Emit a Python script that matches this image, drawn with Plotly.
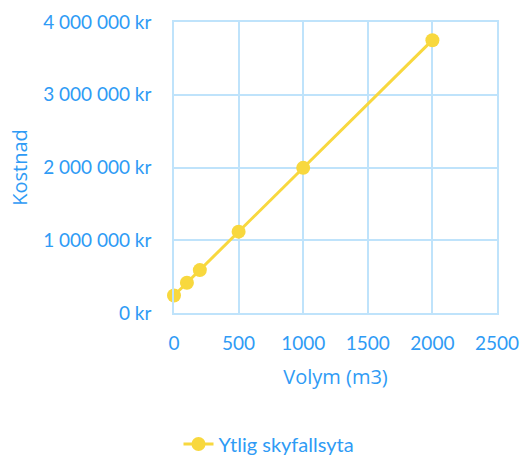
import plotly.graph_objects as go

volym = [0, 100, 200, 500, 1000, 2000]
kostnad = [240000, 415000, 590000, 1118000, 1995000, 3750000]
series_name = "Ytlig skyfallsyta"
x_ticks = [0, 500, 1000, 1500, 2000, 2500]
y_ticks = [0, 1000000, 2000000, 3000000, 4000000]
y_ticktext = [f"{v:,}".replace(",", " ") + " kr" for v in y_ticks]

blue = "#2F9BF5"
grid = "#BFE3FB"
yellow = "#F8D83E"
font = "Lato, Open Sans, sans-serif"
title_font = "Open Sans, Lato, sans-serif"

W, H = 523, 459

fig = go.Figure()
fig.add_trace(go.Scatter(
    x=volym, y=kostnad, mode="lines+markers", name=series_name,
    line=dict(color=yellow, width=3),
    marker=dict(color=yellow, size=14),
    cliponaxis=False,
))
fig.update_layout(
    width=W, height=H,
    margin=dict(l=174, r=26, t=22, b=146, autoexpand=False),
    paper_bgcolor="white", plot_bgcolor="white",
    font=dict(family=font, color=blue, size=19),
    showlegend=True,
    legend=dict(orientation="h", x=269 / W, xanchor="center", xref="container",
                y=(H - 444) / H, yanchor="middle", yref="container",
                font=dict(size=20, color=blue)),
    xaxis=dict(range=[0, 2500], tickvals=x_ticks, tickformat="d", automargin=False,
               showgrid=True, gridcolor=grid, gridwidth=1.5,
               showline=True, linecolor=grid, linewidth=1.5, mirror=True,
               zeroline=False, ticks="", ticklabelstandoff=12,
               title=dict(text="Volym (m3)", font=dict(size=20, color=blue, family=title_font), standoff=17)),
    yaxis=dict(range=[0, 4000000], tickvals=y_ticks, ticktext=y_ticktext, automargin=False,
               showgrid=True, gridcolor=grid, gridwidth=1.5,
               showline=True, linecolor=grid, linewidth=1.5, mirror=True,
               zeroline=False, ticks="", ticklabelstandoff=17,
               title=dict(text="Kostnad", font=dict(size=20, color=blue, family=title_font), standoff=10)),
)
fig.write_html(
    "out.html",
    config={"displayModeBar": False},
    post_script="document.body.style.margin='0';document.body.style.overflow='hidden';",
)
